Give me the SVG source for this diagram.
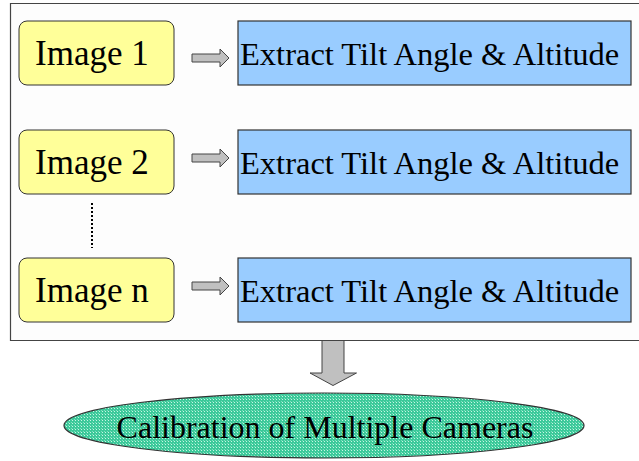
<svg xmlns="http://www.w3.org/2000/svg" width="639" height="461" viewBox="0 0 639 461">
  <defs>
    <style>
      .img { fill: #ffff99; stroke: #333333; stroke-width: 1; }
      .step { fill: #99ccff; stroke: #333333; stroke-width: 1.2; }
      .arrow { fill: #c0c0c0; stroke: #444444; stroke-width: 1; }
      .lbl { font-family: 'Liberation Serif', serif; fill: #000000; }
      .big { font-size: 35px; }
      .mid { font-size: 32.5px; }
    </style>
    <pattern id="dots" width="3" height="3" patternUnits="userSpaceOnUse">
      <rect width="3" height="3" fill="#3cc99a"/>
      <rect x="0" y="0" width="1" height="1" fill="#c8f5e4"/>
      <rect x="2" y="2" width="1" height="1" fill="#7fdfbd"/>
    </pattern>
  </defs>

  <rect width="639" height="461" fill="#ffffff"/>

  <!-- enclosing frame (open on the right) -->
  <path d="M639,3.5 H10.5 V340.5 H639" fill="#fdfdfd" stroke="#444444" stroke-width="1.2"/>

  <g id="image1">
    <rect class="img" x="19" y="21" width="155" height="64" rx="8"/>
    <text class="lbl big" x="35" y="65">Image 1</text>
  </g>
  <g id="image2">
    <rect class="img" x="19" y="130" width="155" height="64" rx="8"/>
    <text class="lbl big" x="35" y="174">Image 2</text>
  </g>
  <g id="imagen">
    <rect class="img" x="19" y="258" width="155" height="64" rx="8"/>
    <text class="lbl big" x="35" y="302">Image n</text>
  </g>

  <g id="extract1">
    <rect class="step" x="238" y="21" width="393" height="64"/>
    <text class="lbl mid" x="240" y="65">Extract Tilt Angle &amp; Altitude</text>
  </g>
  <g id="extract2">
    <rect class="step" x="238" y="130" width="393" height="64"/>
    <text class="lbl mid" x="240" y="174">Extract Tilt Angle &amp; Altitude</text>
  </g>
  <g id="extractn">
    <rect class="step" x="238" y="258" width="393" height="64"/>
    <text class="lbl mid" x="240" y="302">Extract Tilt Angle &amp; Altitude</text>
  </g>

  <g id="calibration">
    <ellipse cx="324" cy="425.5" rx="260" ry="32.5" fill="url(#dots)" stroke="#333333" stroke-width="1.2"/>
    <text class="lbl" x="325" y="438" text-anchor="middle" font-size="32">Calibration of Multiple Cameras</text>
  </g>

  <g id="connectors">
    <path class="arrow" d="M192,54 H220 V49 L229,58 L220,67 V62 H192 Z"/>
    <path class="arrow" d="M192,154 H220 V149 L229,158 L220,167 V162 H192 Z"/>
    <path class="arrow" d="M192,282 H220 V277 L229,286 L220,295 V290 H192 Z"/>
    <line x1="92" y1="203" x2="92" y2="248" stroke="#000000" stroke-width="2" stroke-dasharray="2,2"/>
    <path class="arrow" d="M322,340.5 H344 V373 H356.5 L333,385.5 L310,373 H322 Z"/>
  </g>
</svg>
